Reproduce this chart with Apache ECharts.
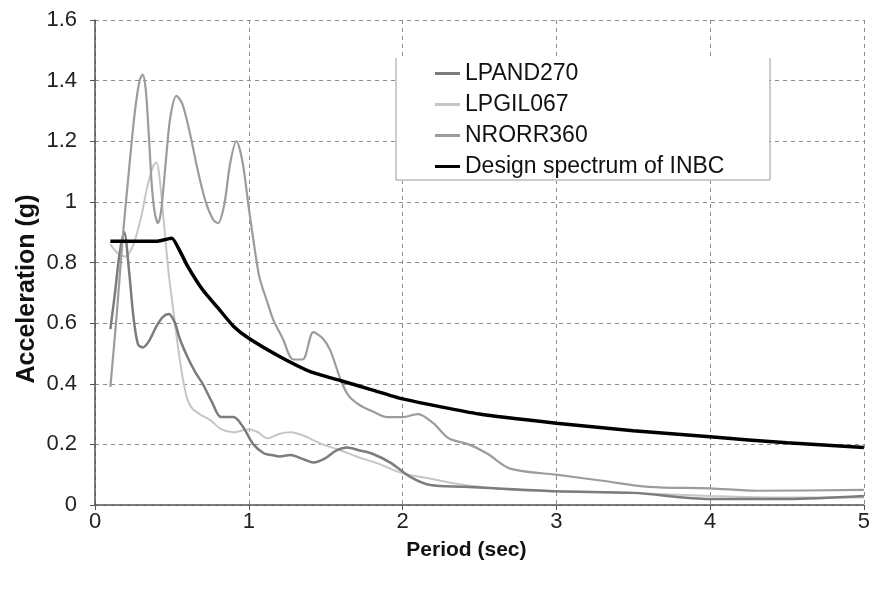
<!DOCTYPE html>
<html>
<head>
<meta charset="utf-8">
<script src="https://cdn.jsdelivr.net/npm/echarts@6/dist/echarts.min.js"></script>
<style>
html,body{margin:0;padding:0;background:#fff;}
#chart{width:873px;height:591px;}
</style>
</head>
<body>
<div id="chart"></div>
<script>
// ---- data ----
var xTicks = [0, 1, 2, 3, 4, 5];
var yTicks = [0, 0.2, 0.4, 0.6, 0.8, 1, 1.2, 1.4, 1.6];

var lpandT = [0.1,0.13,0.16,0.19,0.22,0.25,0.28,0.31,0.35,0.4,0.44,0.48,0.52,0.55,0.6,0.65,0.7,0.76,0.82,0.9,0.96,1.03,1.1,1.15,1.2,1.27,1.36,1.42,1.5,1.57,1.64,1.72,1.8,1.92,2.05,2.18,2.4,2.6,3.0,3.5,4.0,4.5,5.0];
var lpandA = [0.58,0.70,0.83,0.90,0.78,0.62,0.53,0.52,0.54,0.59,0.62,0.63,0.60,0.55,0.49,0.44,0.40,0.34,0.29,0.29,0.26,0.20,0.17,0.165,0.16,0.165,0.15,0.14,0.155,0.18,0.19,0.18,0.17,0.14,0.093,0.066,0.06,0.055,0.045,0.04,0.02,0.02,0.03];

var lpgilT = [0.1,0.15,0.2,0.25,0.3,0.34,0.38,0.4,0.42,0.45,0.48,0.51,0.54,0.57,0.6,0.63,0.68,0.75,0.82,0.9,1.0,1.06,1.12,1.2,1.27,1.35,1.48,1.6,1.7,1.85,2.0,2.2,2.35,2.5,2.7,3.0,3.5,4.0,4.5,5.0];
var lpgilA = [0.86,0.83,0.82,0.86,0.95,1.05,1.12,1.13,1.08,0.92,0.76,0.64,0.52,0.42,0.35,0.32,0.30,0.28,0.25,0.24,0.25,0.24,0.22,0.235,0.24,0.23,0.20,0.18,0.16,0.135,0.105,0.085,0.07,0.06,0.05,0.045,0.04,0.03,0.025,0.025];

var nrorrT = [0.1,0.14,0.18,0.22,0.26,0.29,0.31,0.33,0.35,0.37,0.39,0.41,0.43,0.46,0.49,0.53,0.57,0.62,0.67,0.72,0.77,0.8,0.84,0.88,0.92,0.96,1.0,1.04,1.07,1.12,1.16,1.22,1.29,1.35,1.42,1.48,1.53,1.6,1.65,1.72,1.8,1.9,2.0,2.1,2.2,2.3,2.43,2.55,2.7,3.0,3.3,3.6,4.0,4.3,5.0];
var nrorrA = [0.39,0.62,0.88,1.10,1.30,1.40,1.42,1.37,1.22,1.05,0.96,0.93,0.97,1.13,1.28,1.35,1.32,1.22,1.10,1.00,0.94,0.93,0.99,1.13,1.20,1.13,0.98,0.84,0.75,0.67,0.61,0.55,0.48,0.48,0.57,0.55,0.51,0.41,0.36,0.33,0.31,0.29,0.29,0.30,0.27,0.22,0.20,0.17,0.12,0.10,0.08,0.06,0.055,0.047,0.05];

var inbcT = [0.1,0.2,0.3,0.4,0.45,0.5,0.55,0.6,0.7,0.8,0.9,1.0,1.2,1.4,1.6,1.8,2.0,2.5,3.0,3.5,4.0,4.5,5.0];
var inbcA = [0.87,0.87,0.87,0.87,0.875,0.88,0.84,0.79,0.71,0.65,0.59,0.55,0.49,0.44,0.41,0.38,0.35,0.30,0.27,0.245,0.225,0.205,0.19];

var seriesNames = ['LPAND270', 'LPGIL067', 'NRORR360', 'Design spectrum of INBC'];
var seriesColors = ['#7c7c7c', '#c6c6c6', '#9c9c9c', '#000000'];

function pairs(t, a) { return t.map(function (v, i) { return [v, a[i]]; }); }

var FONT = 'Liberation Sans, Arial, sans-serif';
var chart = echarts.init(document.getElementById('chart'), null, {renderer: 'canvas'});
chart.setOption({
  animation: false,
  backgroundColor: '#fff',
  grid: {left: 95, right: 8, top: 20, bottom: 86, containLabel: false},
  xAxis: {
    type: 'value', min: xTicks[0], max: xTicks[xTicks.length - 1], interval: 1,
    name: 'Period (sec)', nameLocation: 'middle', nameGap: 35,
    nameTextStyle: {fontFamily: FONT, fontSize: 21, fontWeight: 'bold', color: '#111', padding: [0, 26, 0, 0]},
    axisLine: {lineStyle: {color: '#555', width: 1.5}},
    axisTick: {show: true, inside: false, length: 5, lineStyle: {color: '#555'}},
    axisLabel: {fontFamily: FONT, fontSize: 22, color: '#222', margin: 6},
    splitLine: {show: true, lineStyle: {color: '#8a8a8a', type: [4, 4], width: 1}}
  },
  yAxis: {
    type: 'value', min: yTicks[0], max: yTicks[yTicks.length - 1], interval: 0.2,
    axisLine: {show: true, lineStyle: {color: '#555', width: 1.5}},
    axisTick: {show: true, inside: false, length: 5, lineStyle: {color: '#555'}},
    axisLabel: {fontFamily: FONT, fontSize: 22, color: '#222', margin: 18},
    splitLine: {show: true, lineStyle: {color: '#8a8a8a', type: [4, 4], width: 1}}
  },
  legend: {
    show: true, orient: 'vertical', left: 396, top: 58,
    data: seriesNames.map(function (n, i) {
      return {name: n, icon: 'rect', itemStyle: {color: seriesColors[i]}};
    }),
    itemWidth: 25, itemHeight: 3, itemGap: 8,
    padding: [4, 45, 3, 39],
    backgroundColor: '#fff',
    borderWidth: 0,
    textStyle: {fontFamily: FONT, fontSize: 23, color: '#111', lineHeight: 23}
  },
  graphic: [
    {type: 'text', x: 27, y: 289, rotation: Math.PI / 2,
     style: {text: 'Acceleration (g)', fontFamily: FONT, fontSize: 25, fontWeight: 'bold', fill: '#111', textAlign: 'center', textVerticalAlign: 'middle'}},
    {type: 'polyline', z: 100, silent: true,
     shape: {points: [[396, 58], [396, 180], [770, 180], [770, 58]]},
     style: {stroke: '#999', lineWidth: 1, fill: null}}
  ],
  series: [
    {name: seriesNames[0], type: 'line', data: pairs(lpandT, lpandA), symbol: 'none', smooth: 0.3,
     lineStyle: {color: seriesColors[0], width: 2.5}, itemStyle: {color: seriesColors[0]}, z: 3},
    {name: seriesNames[1], type: 'line', data: pairs(lpgilT, lpgilA), symbol: 'none', smooth: 0.3,
     lineStyle: {color: seriesColors[1], width: 2}, itemStyle: {color: seriesColors[1]}, z: 2},
    {name: seriesNames[2], type: 'line', data: pairs(nrorrT, nrorrA), symbol: 'none', smooth: 0.3,
     lineStyle: {color: seriesColors[2], width: 2.2}, itemStyle: {color: seriesColors[2]}, z: 3},
    {name: seriesNames[3], type: 'line', data: pairs(inbcT, inbcA), symbol: 'none', smooth: 0.2,
     lineStyle: {color: seriesColors[3], width: 3.5}, itemStyle: {color: seriesColors[3]}, z: 4}
  ]
});
</script>
</body>
</html>
